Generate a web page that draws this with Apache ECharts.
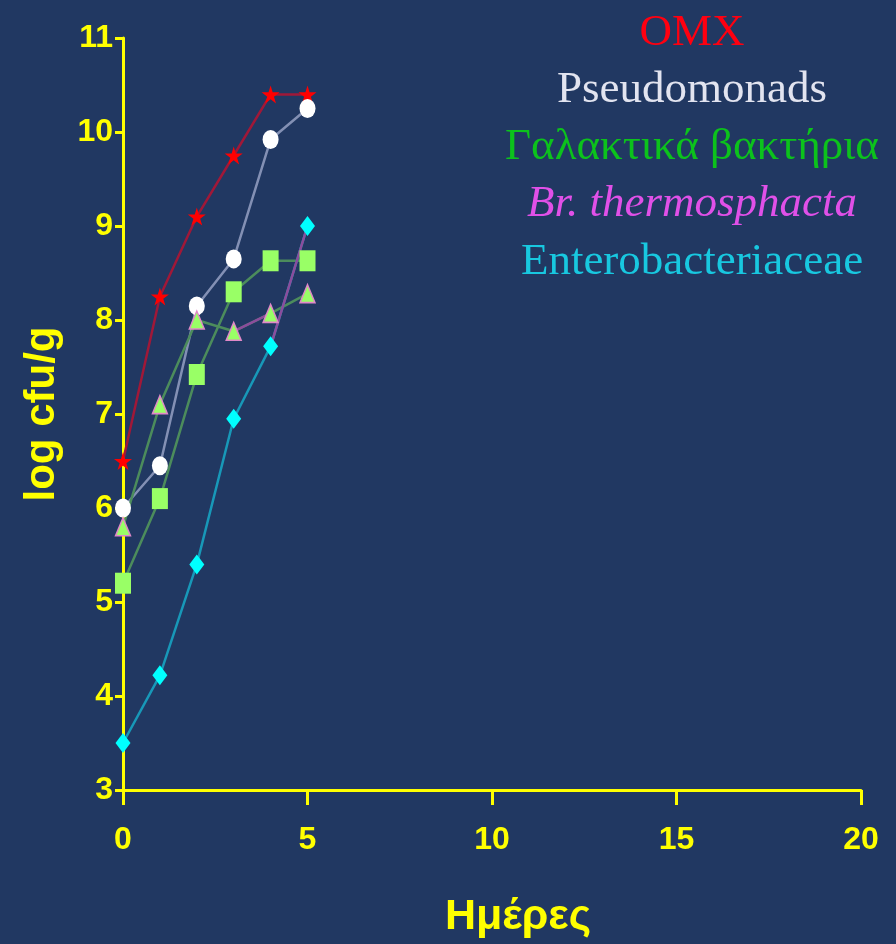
<!DOCTYPE html>
<html>
<head>
<meta charset="utf-8">
<script src="https://cdn.jsdelivr.net/npm/echarts@6/dist/echarts.min.js"></script>
<style>
html,body{margin:0;padding:0;background:#213862;}
#chart{width:896px;height:944px;}
</style>
</head>
<body>
<div id="chart"></div>
<script>
// ---- data ----
const days = [0, 1, 2, 3, 4, 5];
const omx = [6.5, 8.25, 9.1, 9.75, 10.4, 10.4];
const pseudomonads = [6.0, 6.45, 8.15, 8.65, 9.92, 10.25];
const lactic = [5.2, 6.1, 7.42, 8.3, 8.63, 8.63];
const brochothrix = [5.8, 7.1, 8.0, 7.88, 8.07, 8.28];
const entero = [3.5, 4.22, 5.4, 6.95, 7.72, 9.0];
const seriesNames = ['OMX', 'Pseudomonads', 'Γαλακτικά βακτήρια', 'Br. thermosphacta', 'Enterobacteriaceae'];
const xAxisTitle = 'Ημέρες';
const yAxisTitle = 'log cfu/g';
const xRange = [0, 20, 5];
const yRange = [3, 11, 1];
// line segments that are drawn in a different colour in the reference: [series index, start point index]
const purpleSegments = [[3, 3], [4, 4]];

// ---- styles ----
const YEL = '#ffff00';
const values = [omx, pseudomonads, lactic, brochothrix, entero];
const lineColors = ['#a01838', '#8390b4', '#4c8c5c', '#4c8c5c', '#1898b8'];
const purple = '#8c4c9c';
const starPath = 'path://M50,0 L61,35 L98,35 L68,57 L79,91 L50,70 L21,91 L32,57 L2,35 L39,35 Z';
const markerStyles = [
  {symbol: starPath, size: [18, 18], item: {color: '#ff0000', opacity: 1}},
  {symbol: 'circle', size: [16, 19], item: {color: '#ffffff', opacity: 1}},
  {symbol: 'rect', size: [16, 21], item: {color: '#99ff66', opacity: 1}},
  {symbol: 'triangle', size: [15, 18], item: {color: '#99ff66', borderColor: '#e088c8', borderWidth: 1.5, opacity: 1}},
  {symbol: 'diamond', size: [15, 20], item: {color: '#00ffff', opacity: 1}}
];
const legendColors = ['#ff0010', '#e2e4f0', '#0cc21c', '#e050e8', '#18c8e0'];
const legendStyles = ['normal', 'normal', 'normal', 'italic', 'normal'];
const legendY = [33, 90, 147, 204, 262];

const pts = arr => days.map((d, i) => [d, arr[i]]);

const series = [];
values.forEach((arr, k) => {
  series.push({
    type: 'line', name: seriesNames[k], data: pts(arr), symbol: 'none',
    lineStyle: {color: lineColors[k], width: 2.5}, z: 2, silent: true
  });
});
purpleSegments.forEach(([k, i]) => {
  series.push({
    type: 'line', data: pts(values[k]).slice(i, i + 2), symbol: 'none',
    lineStyle: {color: purple, width: 2.5}, z: 3, silent: true
  });
});
values.forEach((arr, k) => {
  series.push({
    type: 'scatter', data: pts(arr), symbol: markerStyles[k].symbol,
    symbolSize: markerStyles[k].size, itemStyle: markerStyles[k].item, z: 5 + k
  });
});

const chart = echarts.init(document.getElementById('chart'), null, {renderer: 'canvas'});
chart.setOption({
  backgroundColor: '#213862',
  animation: false,
  grid: {left: 123, right: 35, top: 38, bottom: 151, containLabel: false},
  xAxis: {
    type: 'value', min: xRange[0], max: xRange[1], interval: xRange[2],
    name: xAxisTitle, nameLocation: 'middle', nameGap: 106,
    nameTextStyle: {color: YEL, fontFamily: 'Liberation Sans', fontWeight: 'bold', fontSize: 43, padding: [0, 0, 0, 52]},
    axisLine: {lineStyle: {color: YEL, width: 3}},
    axisTick: {length: 15, lineStyle: {color: YEL, width: 3}},
    axisLabel: {color: YEL, fontFamily: 'Liberation Sans', fontWeight: 'bold', fontSize: 32, margin: 34},
    splitLine: {show: false}
  },
  yAxis: {
    type: 'value', min: yRange[0], max: yRange[1], interval: yRange[2],
    name: yAxisTitle, nameLocation: 'middle', nameGap: 60,
    nameTextStyle: {color: YEL, fontFamily: 'Liberation Sans', fontWeight: 'bold', fontSize: 42},
    axisLine: {lineStyle: {color: YEL, width: 3}},
    axisTick: {length: 8, lineStyle: {color: YEL, width: 3}},
    axisLabel: {color: YEL, fontFamily: 'Liberation Sans', fontWeight: 'bold', fontSize: 32, margin: 10},
    splitLine: {show: false}
  },
  graphic: seriesNames.map((n, k) => ({
    type: 'text', x: 692, y: legendY[k], z: 10,
    style: {
      text: n, fill: legendColors[k], fontFamily: 'Liberation Serif',
      fontStyle: legendStyles[k], fontSize: 45, align: 'center', verticalAlign: 'middle'
    }
  })),
  series: series
});
</script>
</body>
</html>
